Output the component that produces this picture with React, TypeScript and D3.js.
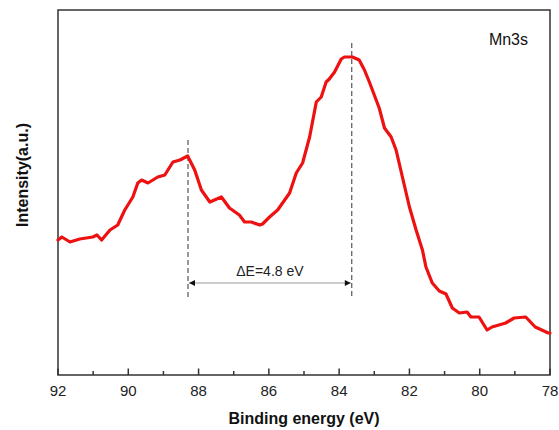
import React from 'react';
import * as d3 from 'd3';

// Mn3s XPS spectrum
const energy = [
  92.0, 91.89, 91.66, 91.38, 91.01, 90.89, 90.76, 90.52, 90.3, 90.1,
  89.87, 89.73, 89.62, 89.44, 89.16, 88.96, 88.73, 88.53, 88.31, 88.11,
  87.92, 87.68, 87.35, 87.12, 86.84, 86.69, 86.5, 86.26, 86.18, 85.98,
  85.75, 85.55, 85.41, 85.22, 85.04, 84.84, 84.65, 84.51, 84.37, 84.28,
  84.13, 83.94, 83.85, 83.62, 83.43, 83.28, 83.14, 83.0, 82.86, 82.71,
  82.52, 82.38, 82.2, 82.0, 81.81, 81.63, 81.53, 81.35, 81.15, 80.96,
  80.78, 80.58, 80.36, 80.25, 80.02, 79.79, 79.65, 79.26, 79.02, 78.69,
  78.42, 78.05, 78.0,
];
const intensity = [
  135, 138, 133, 136, 138, 140, 135, 145, 150, 165,
  178, 192, 195, 192, 198, 200, 213, 215, 219, 205,
  185, 173, 178, 167, 160, 153, 153, 150, 151, 158,
  165, 175, 182, 202, 212, 238, 273, 278, 293, 296,
  303, 316, 318, 318, 315, 305, 293, 280, 267, 247,
  238, 225, 198, 168, 145, 125, 108, 92, 84, 81,
  67, 62, 63, 58, 58, 45, 48, 52, 57, 58,
  48, 42, 42,
];

const majorTicks = [92, 90, 88, 86, 84, 82, 80, 78];
const minorTicks = [91, 89, 87, 85, 83, 81, 79];

// splitting annotation: satellite peak and main peak
const satellitePeak = 88.3;
const mainPeak = 83.64;
const deltaLabel = 'ΔE=4.8 eV';

const margin = { top: 10, right: 9, bottom: 55, left: 58 };
const W = 559;
const H = 430;

const App = () => {
  const x = d3.scaleLinear().domain([92, 78]).range([margin.left, W - margin.right]);
  const y = d3.scaleLinear().domain([0, 365]).range([H - margin.bottom, margin.top]);

  const pts: [number, number][] = energy.map((e, i) => [e, intensity[i]]);
  const line = d3
    .line<[number, number]>()
    .x((d) => x(d[0]))
    .y((d) => y(d[1]));

  const x0 = x.range()[0];
  const x1 = x.range()[1];
  const yb = y.range()[0];
  const yt = y.range()[1];
  const font = 'Arial, "Liberation Sans", Helvetica, sans-serif';

  const arrowY = y(92);

  return (
    <svg width={W} height={H} style={{ position: 'absolute', left: 0, top: 0, background: '#fff' }}>
      <defs>
        <marker id="ah" viewBox="0 0 10 10" refX="10" refY="5" markerWidth="8" markerHeight="6" orient="auto-start-reverse" markerUnits="userSpaceOnUse">
          <path d="M0,0 L10,5 L0,10 z" fill="#111" />
        </marker>
      </defs>

      {/* frame */}
      <rect x={x0} y={yt} width={x1 - x0} height={yb - yt} fill="none" stroke="#333" strokeWidth={1.5} />

      {/* ticks */}
      {majorTicks.map((t) => (
        <g key={'M' + t}>
          <line x1={x(t)} x2={x(t)} y1={yb} y2={yb - 6.5} stroke="#333" strokeWidth={1.5} />
          <text x={x(t)} y={yb + 21} textAnchor="middle" fontFamily={font} fontSize={15} fill="#222">
            {t}
          </text>
        </g>
      ))}
      {minorTicks.map((t) => (
        <line key={'m' + t} x1={x(t)} x2={x(t)} y1={yb} y2={yb - 4} stroke="#333" strokeWidth={1.5} />
      ))}

      {/* axis titles */}
      <text x={(x0 + x1) / 2} y={H - 6} textAnchor="middle" fontFamily={font} fontSize={16} fontWeight="bold" fill="#111">
        Binding energy (eV)
      </text>
      <text
        transform={`translate(28, 175) rotate(-90)`}
        textAnchor="middle"
        fontFamily={font}
        fontSize={16}
        fontWeight="bold"
        fill="#111"
      >
        Intensity(a.u.)
      </text>

      {/* dashed peak markers */}
      <line x1={x(satellitePeak)} x2={x(satellitePeak)} y1={y(235)} y2={y(75)} stroke="#333" strokeWidth={1} strokeDasharray="5,3" />
      <line x1={x(mainPeak)} x2={x(mainPeak)} y1={y(332)} y2={y(77)} stroke="#333" strokeWidth={1} strokeDasharray="5,3" />

      {/* delta arrow */}
      <line
        x1={x(satellitePeak) + 1}
        x2={x(mainPeak) - 1}
        y1={arrowY}
        y2={arrowY}
        stroke="#999"
        strokeWidth={1}
        markerStart="url(#ah)"
        markerEnd="url(#ah)"
      />
      <text x={(x(satellitePeak) + x(mainPeak)) / 2} y={arrowY - 7} textAnchor="middle" fontFamily={font} fontSize={14} fill="#222">
        {deltaLabel}
      </text>

      {/* spectrum */}
      <path d={line(pts) || ''} fill="none" stroke="#ee1111" strokeWidth={3.2} strokeLinejoin="round" strokeLinecap="round" />

      <text x={x1 - 22} y={yt + 35} textAnchor="end" fontFamily={font} fontSize={16} fill="#111">
        Mn3s
      </text>
    </svg>
  );
};

export default App;
